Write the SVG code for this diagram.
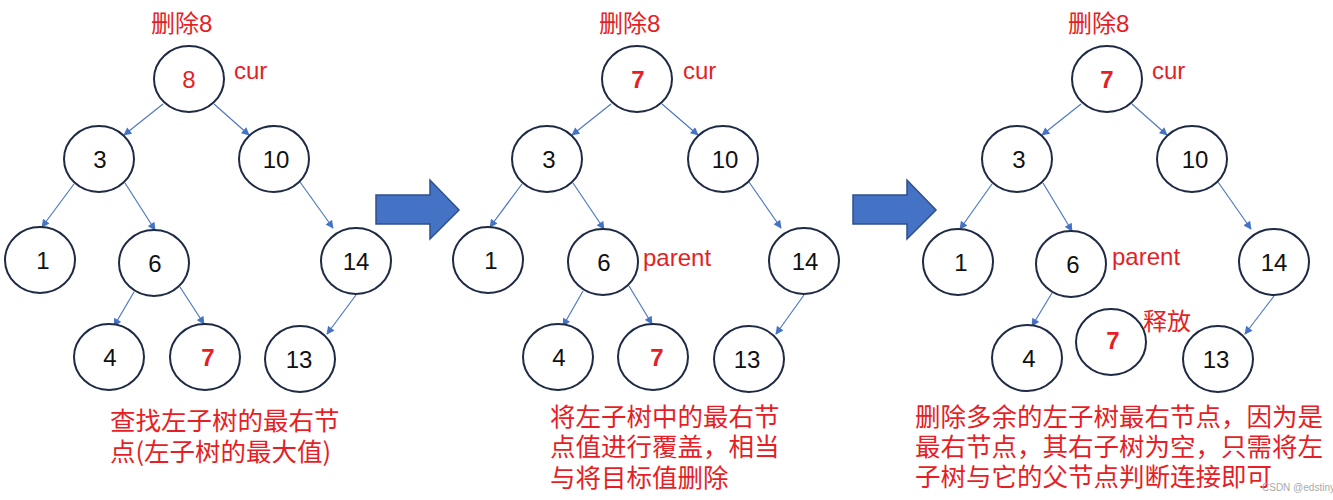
<svg xmlns="http://www.w3.org/2000/svg" width="1333" height="500" viewBox="0 0 1333 500">
<defs>
<style>
.n ellipse{fill:#fff;stroke:#1f2a44;stroke-width:2}
.n text{font-family:"Liberation Sans","Noto Sans",sans-serif;font-size:24px;fill:#111;text-anchor:middle}
.n text.r{fill:#e61e25}
.n text.b{font-weight:bold}
.e line{stroke:#4f78c4;stroke-width:1.2;marker-end:url(#ah)}
.lbl{font-family:"Liberation Sans","Noto Sans CJK SC",sans-serif;font-size:24px;fill:#e61e25}
.cap{font-family:"Noto Sans CJK SC","Liberation Sans",sans-serif;font-size:25.5px;fill:#e61e25}
.big{fill:#4472c4;stroke:#2f4f8a;stroke-width:1.5}
.wm{font-family:"Liberation Sans",sans-serif;font-size:10px;fill:#aaa}
</style>
<marker id="ah" viewBox="0 0 10 10" refX="9" refY="5" markerWidth="9" markerHeight="8" markerUnits="userSpaceOnUse" orient="auto">
<path d="M0,0 L10,5 L0,10 z" fill="#4472c4"/>
</marker>
</defs>

<!-- block arrows -->
<polygon class="big" points="376,195 430,195 430,180 459,210 430,239 430,224 376,224"/>
<polygon class="big" points="853,195 907,195 907,180 936,210 907,239 907,224 853,224"/>

<!-- connectors -->
<g id="connectors" class="e">
<!-- panel 1 -->
<line x1="163" y1="104" x2="124" y2="135"/>
<line x1="214" y1="104" x2="249" y2="135"/>
<line x1="74" y1="184" x2="42" y2="227"/>
<line x1="125" y1="183" x2="155" y2="230"/>
<line x1="300" y1="182" x2="333" y2="228"/>
<line x1="134" y1="292" x2="114" y2="326"/>
<line x1="180" y1="287" x2="204" y2="324"/>
<line x1="356" y1="295" x2="327" y2="334"/>
<!-- panel 2 -->
<line x1="611" y1="104" x2="572" y2="135"/>
<line x1="662" y1="104" x2="698" y2="135"/>
<line x1="522" y1="184" x2="490" y2="227"/>
<line x1="573" y1="183" x2="604" y2="229"/>
<line x1="749" y1="182" x2="781" y2="228"/>
<line x1="583" y1="291" x2="563" y2="326"/>
<line x1="629" y1="286" x2="652" y2="324"/>
<line x1="804" y1="295" x2="776" y2="334"/>
<!-- panel 3 -->
<line x1="1081" y1="104" x2="1042" y2="135"/>
<line x1="1132" y1="104" x2="1167" y2="135"/>
<line x1="992" y1="184" x2="960" y2="229"/>
<line x1="1043" y1="183" x2="1072" y2="231"/>
<line x1="1218" y1="182" x2="1251" y2="229"/>
<line x1="1052" y1="293" x2="1032" y2="326"/>
<line x1="1274" y1="296" x2="1245" y2="334"/>
</g>

<!-- panel 1 nodes -->
<g id="p1-n8" class="n"><ellipse cx="189" cy="79" rx="35" ry="33"/><text class="r" x="189" y="88">8</text></g>
<g id="p1-n3" class="n"><ellipse cx="99" cy="159" rx="35" ry="33"/><text x="100" y="168">3</text></g>
<g id="p1-n10" class="n"><ellipse cx="274" cy="159" rx="35" ry="33"/><text x="276" y="168">10</text></g>
<g id="p1-n1" class="n"><ellipse cx="40" cy="260" rx="35" ry="33"/><text x="43" y="269">1</text></g>
<g id="p1-n6" class="n"><ellipse cx="154" cy="263" rx="35" ry="33"/><text x="155" y="272">6</text></g>
<g id="p1-n14" class="n"><ellipse cx="356" cy="261" rx="35" ry="33"/><text x="356" y="270">14</text></g>
<g id="p1-n4" class="n"><ellipse cx="109" cy="357" rx="35" ry="33"/><text x="110" y="366">4</text></g>
<g id="p1-n7" class="n"><ellipse cx="205" cy="357" rx="35" ry="33"/><text class="r b" x="208" y="366">7</text></g>
<g id="p1-n13" class="n"><ellipse cx="300" cy="359" rx="35" ry="33"/><text x="299" y="368">13</text></g>
<g id="p1-labels">
<text class="lbl" x="151" y="32">删除8</text>
<text class="lbl" x="234" y="79">cur</text>
<text class="cap" x="110" y="430">查找左子树的最右节</text>
<text class="cap" x="110" y="461">点(左子树的最大值)</text>
</g>

<!-- panel 2 nodes -->
<g id="p2-n7" class="n"><ellipse cx="637" cy="79" rx="35" ry="33"/><text class="r b" x="638" y="88">7</text></g>
<g id="p2-n3" class="n"><ellipse cx="547" cy="159" rx="35" ry="33"/><text x="549" y="168">3</text></g>
<g id="p2-n10" class="n"><ellipse cx="723" cy="159" rx="35" ry="33"/><text x="725" y="168">10</text></g>
<g id="p2-n1" class="n"><ellipse cx="488" cy="260" rx="35" ry="33"/><text x="491" y="269">1</text></g>
<g id="p2-n6" class="n"><ellipse cx="603" cy="262" rx="35" ry="33"/><text x="604" y="271">6</text></g>
<g id="p2-n14" class="n"><ellipse cx="804" cy="261" rx="35" ry="33"/><text x="805" y="270">14</text></g>
<g id="p2-n4" class="n"><ellipse cx="558" cy="357" rx="35" ry="33"/><text x="559" y="366">4</text></g>
<g id="p2-n7b" class="n"><ellipse cx="653" cy="357" rx="35" ry="33"/><text class="r b" x="657" y="366">7</text></g>
<g id="p2-n13" class="n"><ellipse cx="749" cy="359" rx="35" ry="33"/><text x="747" y="368">13</text></g>
<g id="p2-labels">
<text class="lbl" x="599" y="32">删除8</text>
<text class="lbl" x="683" y="79">cur</text>
<text class="lbl" x="643" y="266">parent</text>
<text class="cap" x="550" y="426">将左子树中的最右节</text>
<text class="cap" x="550" y="456">点值进行覆盖，相当</text>
<text class="cap" x="550" y="487">与将目标值删除</text>
</g>

<!-- panel 3 nodes -->
<g id="p3-n7" class="n"><ellipse cx="1107" cy="79" rx="35" ry="33"/><text class="r b" x="1107" y="88">7</text></g>
<g id="p3-n3" class="n"><ellipse cx="1017" cy="159" rx="35" ry="33"/><text x="1019" y="168">3</text></g>
<g id="p3-n10" class="n"><ellipse cx="1192" cy="159" rx="35" ry="33"/><text x="1195" y="168">10</text></g>
<g id="p3-n1" class="n"><ellipse cx="958" cy="262" rx="35" ry="33"/><text x="961" y="271">1</text></g>
<g id="p3-n6" class="n"><ellipse cx="1071" cy="264" rx="35" ry="33"/><text x="1073" y="273">6</text></g>
<g id="p3-n14" class="n"><ellipse cx="1274" cy="262" rx="35" ry="33"/><text x="1274" y="271">14</text></g>
<g id="p3-n4" class="n"><ellipse cx="1027" cy="358" rx="35" ry="33"/><text x="1029" y="367">4</text></g>
<g id="p3-n7b" class="n"><ellipse cx="1111" cy="342" rx="35" ry="33"/><text class="r b" x="1113" y="349">7</text></g>
<g id="p3-n13" class="n"><ellipse cx="1218" cy="359" rx="35" ry="33"/><text x="1216" y="368">13</text></g>
<g id="p3-labels">
<text class="lbl" x="1068" y="32">删除8</text>
<text class="lbl" x="1152" y="79">cur</text>
<text class="lbl" x="1112" y="265">parent</text>
<text class="lbl" x="1143" y="330">释放</text>
<text class="cap" x="915" y="426">删除多余的左子树最右节点，因为是</text>
<text class="cap" x="915" y="456">最右节点，其右子树为空，只需将左</text>
<text class="cap" x="915" y="486">子树与它的父节点判断连接即可</text>
</g>

<text class="wm" x="1262" y="491">CSDN @edstiny</text>
</svg>
